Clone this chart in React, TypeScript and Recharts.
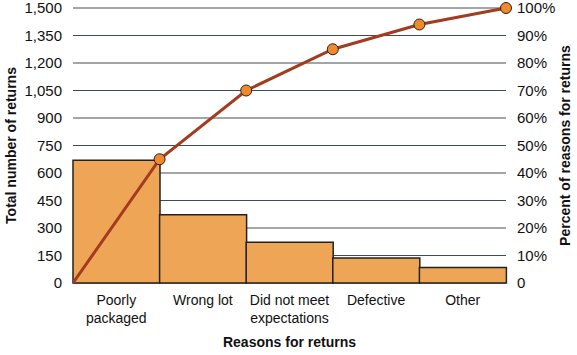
import React from "react";
import {
  ComposedChart, Bar, Line, XAxis, YAxis, CartesianGrid,
} from "recharts";

const reasons = ["Poorly\npackaged", "Wrong lot", "Did not meet\nexpectations", "Defective", "Other"];
const returnCounts = [670, 372, 222, 136, 85];

// cumulative percent, plotted at bar boundaries (0..5)
const boundaries = [0, 1, 2, 3, 4, 5];
const cumulativePct = [0, 45, 70, 85, 94, 100];

const countTicks = [0, 150, 300, 450, 600, 750, 900, 1050, 1200, 1350, 1500];
const pctTicks = [0, 10, 20, 30, 40, 50, 60, 70, 80, 90, 100];

const barData = reasons.map((name, i) => ({ name, count: returnCounts[i] }));
const lineData = boundaries.map((pos, i) => ({ pos, pct: cumulativePct[i] }));

const FONT = "'Liberation Sans', Arial, sans-serif";
const tickStyle = { fontSize: 15, fill: "#111", fontFamily: FONT };

function ReasonTick(props: any) {
  const { x, y, payload } = props;
  const lines = String(payload.value).split("\n");
  return (
    <text x={x} y={y} textAnchor="middle" fontSize={14} fill="#111" fontFamily={FONT}>
      {lines.map((l, i) => (
        <tspan key={i} x={x} dy={i === 0 ? 14 : 18}>{l}</tspan>
      ))}
    </text>
  );
}

function GridLine(props: any) {
  const { x1, y1, x2, y2, index } = props;
  const even = (index ?? 0) % 2 === 0;
  return (
    <line
      key={`g-${index}-${y1}`}
      x1={x1} y1={y1} x2={x2} y2={y2}
      stroke={even ? "#a2a5a9" : "#3e4b58"}
      strokeWidth={even ? 2 : 1}
    />
  );
}

function CumDot(props: any) {
  if (props.index === 0) return <g key="d0" />;
  return (
    <circle
      key={`d${props.index}`}
      cx={props.cx} cy={props.cy} r={5.5}
      fill="#f0892a" stroke="#222" strokeWidth={1}
    />
  );
}

export default function App() {
  return (
    <div style={{ position: "absolute", left: 0, top: 0, width: 577, height: 355, background: "#fff" }}>
      <ComposedChart
        width={577}
        height={355}
        data={barData}
        barCategoryGap={0}
        margin={{ top: 8, right: 0, left: 0, bottom: 0 }}
      >
        <CartesianGrid
          xAxisId="cat"
          yAxisId="left"
          vertical={false}
          horizontal={GridLine as any}
        />
        <XAxis
          xAxisId="cat"
          dataKey="name"
          height={72}
          tickLine={false}
          axisLine={false}
          tickSize={0}
          tickMargin={8}
          interval={0}
          tick={<ReasonTick />}
          label={{
            value: "Reasons for returns",
            position: "insideBottom",
            offset: 8,
            style: { fontSize: 14, fontWeight: "bold", fill: "#111", fontFamily: FONT },
          }}
        />
        <XAxis xAxisId="pos" type="number" dataKey="pos" domain={[0, 5]} hide />
        <YAxis
          yAxisId="left"
          width={73}
          domain={[0, 1500]}
          ticks={countTicks}
          interval={0}
          tickLine={false}
          axisLine={false}
          tickSize={0}
          tickMargin={11}
          tick={tickStyle}
          tickFormatter={(v: number) => v.toLocaleString("en-US")}
          label={{
            value: "Total number of returns",
            angle: -90,
            position: "center",
            dx: -25,
            style: { fontSize: 14, fontWeight: "bold", fill: "#111", fontFamily: FONT, textAnchor: "middle" },
          }}
        />
        <YAxis
          yAxisId="right"
          orientation="right"
          width={71}
          domain={[0, 100]}
          ticks={pctTicks}
          interval={0}
          tickLine={false}
          axisLine={false}
          tickSize={0}
          tickMargin={11}
          tick={{ ...tickStyle, textAnchor: "start" }}
          tickFormatter={(v: number) => (v === 0 ? "0" : `${v}%`)}
          label={{
            value: "Percent of reasons for returns",
            angle: -90,
            position: "center",
            dx: 24,
            style: { fontSize: 14, fontWeight: "bold", fill: "#111", fontFamily: FONT, textAnchor: "middle" },
          }}
        />
        <Bar
          xAxisId="cat"
          yAxisId="left"
          dataKey="count"
          fill="#efa556"
          stroke="#222"
          strokeWidth={1.5}
          isAnimationActive={false}
        />
        <Line
          xAxisId="pos"
          yAxisId="right"
          data={lineData}
          dataKey="pct"
          type="linear"
          stroke="#a23b1f"
          strokeWidth={3}
          dot={CumDot}
          activeDot={false}
          isAnimationActive={false}
        />
      </ComposedChart>
    </div>
  );
}
